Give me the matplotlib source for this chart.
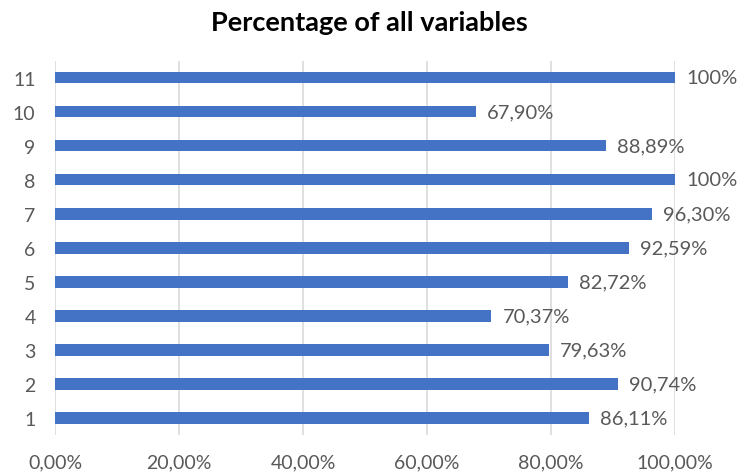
import matplotlib.pyplot as plt
import numpy as np

categories = ['1', '2', '3', '4', '5', '6', '7', '8', '9', '10', '11']
values = [86.11, 90.74, 79.63, 70.37, 82.72, 92.59, 96.30, 100, 88.89, 67.90, 100]
labels = ['86,11%', '90,74%', '79,63%', '70,37%', '82,72%', '92,59%',
          '96,30%', '100%', '88,89%', '67,90%', '100%']
xticks = [0, 20, 40, 60, 80, 100]
xticklabels = ['0,00%', '20,00%', '40,00%', '60,00%', '80,00%', '100,00%']

plt.rcParams['font.family'] = ['Lato', 'DejaVu Sans']
gray = '#595959'

fig = plt.figure(figsize=(7.38, 4.77), dpi=100)
ax = fig.add_axes([0.0745, 0.086, 0.8401, 0.785])

y = np.arange(len(categories))
ax.barh(y, values, height=0.34, color='#4472C4', zorder=3)
for yi, v, lab in zip(y, values, labels):
    ax.text(v + 1.8, yi, lab, va='center', ha='left', fontsize=14.5, color=gray)

ax.set_xlim(0, 100)
ax.set_ylim(-0.5, 10.5)
ax.set_yticks(y)
ax.set_yticklabels(categories)
ax.set_xticks(xticks)
ax.set_xticklabels(xticklabels)
ax.tick_params(axis='both', length=0, labelsize=14, colors=gray)
ax.tick_params(axis='x', pad=13)
ax.tick_params(axis='y', pad=14)
ax.grid(axis='x', color='#D9D9D9', linewidth=1.2, zorder=0)
for s in ax.spines.values():
    s.set_visible(False)

fig.suptitle('Percentage of all variables', fontsize=19.5, fontweight='bold',
             y=0.952, va='center')

fig.savefig('out.png', dpi=100)
